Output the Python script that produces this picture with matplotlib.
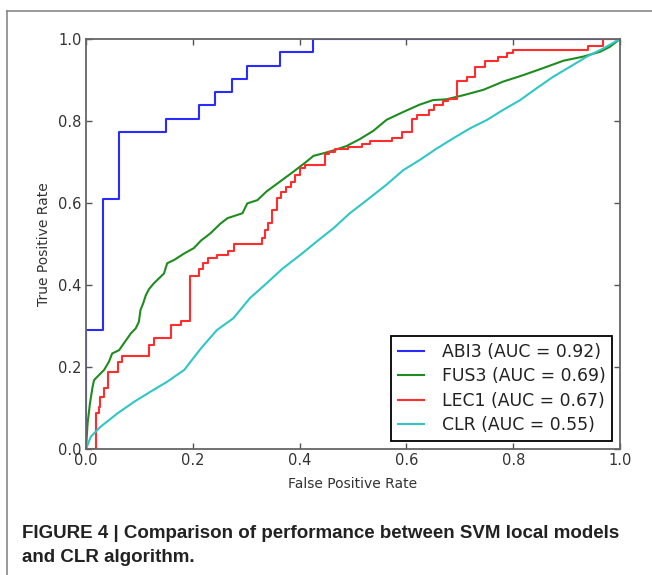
import matplotlib
matplotlib.use("Agg")
import matplotlib.pyplot as plt
from matplotlib.lines import Line2D

# ROC curves (false positive rate, true positive rate)
abi3_fpr = [0, 0, 0.031, 0.061, 0.150, 0.212, 0.242, 0.273, 0.302, 0.363, 0.425, 1.0]
abi3_tpr = [0, 0.29, 0.61, 0.774, 0.806, 0.839, 0.871, 0.903, 0.935, 0.968, 1.0, 1.0]

lec1_fpr = [0, 0.018, 0.024, 0.026, 0.034, 0.041, 0.059, 0.068, 0.118, 0.127, 0.160,
            0.177, 0.195, 0.212, 0.220, 0.228, 0.246, 0.265, 0.278, 0.330, 0.336,
            0.341, 0.349, 0.357, 0.366, 0.375, 0.383, 0.391, 0.401, 0.410, 0.447,
            0.455, 0.466, 0.491, 0.516, 0.532, 0.573, 0.591, 0.610, 0.620, 0.643,
            0.652, 0.668, 0.677, 0.695, 0.713, 0.729, 0.747, 0.772, 0.788, 0.799,
            0.941, 0.968, 1.0]
lec1_tpr = [0, 0.089, 0.103, 0.128, 0.150, 0.187, 0.211, 0.228, 0.254, 0.270, 0.302,
            0.312, 0.422, 0.438, 0.453, 0.465, 0.473, 0.483, 0.501, 0.514, 0.534,
            0.550, 0.583, 0.611, 0.628, 0.640, 0.652, 0.668, 0.685, 0.693, 0.719,
            0.725, 0.731, 0.737, 0.744, 0.752, 0.759, 0.772, 0.804, 0.815, 0.827,
            0.839, 0.850, 0.854, 0.898, 0.907, 0.932, 0.947, 0.957, 0.965, 0.973,
            0.983, 1.0, 1.0]

fus3_fpr = [0, 0.003, 0.0075, 0.012, 0.015, 0.024, 0.034, 0.043, 0.049, 0.062, 0.071,
            0.084, 0.093, 0.099, 0.102, 0.107, 0.112, 0.118, 0.127, 0.146, 0.152,
            0.165, 0.184, 0.202, 0.215, 0.233, 0.252, 0.265, 0.293, 0.302, 0.321,
            0.338, 0.363, 0.388, 0.413, 0.426, 0.444, 0.463, 0.488, 0.513, 0.538,
            0.563, 0.594, 0.625, 0.650, 0.675, 0.707, 0.744, 0.781, 0.819, 0.856,
            0.894, 0.931, 0.963, 0.981, 1.0]
fus3_tpr = [0, 0.063, 0.112, 0.149, 0.168, 0.180, 0.193, 0.213, 0.233, 0.241, 0.258,
            0.282, 0.294, 0.310, 0.339, 0.355, 0.375, 0.390, 0.404, 0.428, 0.453,
            0.461, 0.477, 0.490, 0.508, 0.526, 0.550, 0.563, 0.575, 0.599, 0.607,
            0.628, 0.652, 0.676, 0.701, 0.715, 0.721, 0.728, 0.739, 0.756, 0.776,
            0.803, 0.822, 0.840, 0.851, 0.853, 0.863, 0.876, 0.896, 0.912, 0.929,
            0.947, 0.957, 0.969, 0.981, 1.0]

clr_fpr = [0, 0.009, 0.027, 0.059, 0.090, 0.121, 0.152, 0.184, 0.215, 0.245, 0.276,
           0.307, 0.338, 0.369, 0.401, 0.432, 0.463, 0.494, 0.526, 0.563, 0.594,
           0.625, 0.657, 0.688, 0.719, 0.750, 0.781, 0.813, 0.844, 0.875, 0.906,
           0.938, 0.969, 1.0]
clr_tpr = [0, 0.030, 0.054, 0.087, 0.115, 0.140, 0.164, 0.193, 0.245, 0.290, 0.319,
           0.368, 0.404, 0.441, 0.473, 0.506, 0.538, 0.575, 0.607, 0.645, 0.680,
           0.705, 0.733, 0.758, 0.782, 0.802, 0.827, 0.851, 0.880, 0.908, 0.932,
           0.957, 0.977, 1.0]

labels = ["ABI3 (AUC = 0.92)", "FUS3 (AUC = 0.69)", "LEC1 (AUC = 0.67)", "CLR (AUC = 0.55)"]
ticks = [0.0, 0.2, 0.4, 0.6, 0.8, 1.0]

W, H = 652, 575
fig = plt.figure(figsize=(W / 100, H / 100), dpi=100)
ax = fig.add_axes([86 / W, 1 - 449 / H, 534 / W, 410 / H])

ax.plot(abi3_fpr, abi3_tpr, color="#2b2bff", lw=1.5, drawstyle="steps-post", label=labels[0])
ax.plot(fus3_fpr, fus3_tpr, color="#1f8c1f", lw=1.5, label=labels[1])
ax.plot(lec1_fpr, lec1_tpr, color="#ff2d2d", lw=1.5, drawstyle="steps-post", label=labels[2])
ax.plot(clr_fpr, clr_tpr, color="#30c6c6", lw=1.5, label=labels[3])

ax.set_xlim(0, 1)
ax.set_ylim(0, 1)
ax.set_xticks(ticks)
ax.set_yticks(ticks)
ax.set_xticklabels([f"{t:.1f}" for t in ticks])
ax.set_yticklabels([f"{t:.1f}" for t in ticks])
ax.tick_params(direction="in", top=True, right=True, length=4.5, width=1.0,
               color="#555555", labelcolor="#333333", labelsize=10.5, pad=3)
for s in ax.spines.values():
    s.set_color("#666666")
    s.set_linewidth(1.3)
ax.set_xlabel("False Positive Rate", fontsize=10, color="#333333", labelpad=6)
ax.set_ylabel("True Positive Rate", fontsize=10, color="#333333", labelpad=5)

leg = ax.legend(loc="lower right", fontsize=12.4, fancybox=False, framealpha=1,
                edgecolor="black", handlelength=1.55, handletextpad=1.0,
                borderpad=0.4, labelspacing=0.38, borderaxespad=0.45)
leg.get_frame().set_linewidth(1.3)
for t in leg.get_texts():
    t.set_color("#222222")

# the publication frame around the figure
fig.add_artist(Line2D([7 / W, 1], [1 - 11 / H, 1 - 11 / H], color="#888888", lw=1.2))
fig.add_artist(Line2D([7 / W, 7 / W], [0, 1 - 11 / H], color="#888888", lw=1.2))

cap = dict(fontsize=13.5, fontweight="bold", family="Liberation Sans", color="#222222",
           ha="left", va="center")
fig.text(22 / W, 1 - 533 / H, "FIGURE 4 | Comparison of performance between SVM local models", **cap)
fig.text(22 / W, 1 - 557 / H, "and CLR algorithm.", **cap)

fig.savefig("out.png", dpi=100)
